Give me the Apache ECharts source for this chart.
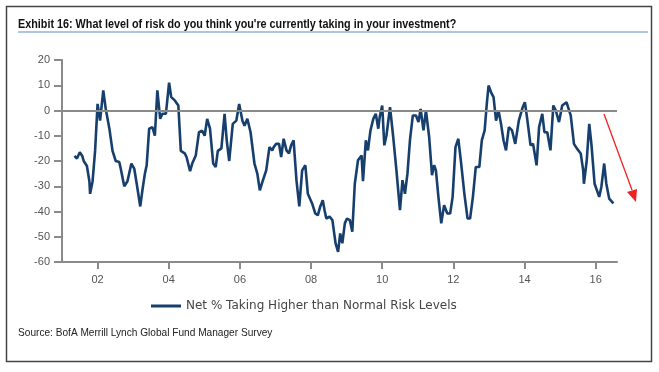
<!DOCTYPE html>
<html>
<head>
<meta charset="utf-8">
<script src="https://cdn.jsdelivr.net/npm/echarts@6/dist/echarts.min.js"></script>
<style>
html,body{margin:0;padding:0;background:#fff;}
#c{width:659px;height:372px;}
</style>
</head>
<body>
<div id="c"></div>
<script>
// Decimal-year positions of traced vertices
var years = [
2001.35,2001.42,2001.50,2001.57,2001.61,2001.65,2001.70,2001.77,2001.79,2001.86,2001.93,
2002.00,2002.07,2002.16,2002.23,2002.33,2002.42,2002.51,2002.61,2002.65,2002.75,2002.84,2002.95,
2003.03,2003.10,2003.20,2003.26,2003.33,2003.38,2003.45,2003.54,2003.61,2003.68,2003.76,2003.82,2003.92,
2004.01,2004.07,2004.17,2004.27,2004.34,2004.45,2004.50,2004.60,2004.66,2004.76,2004.85,2004.94,
2005.01,2005.08,2005.16,2005.25,2005.32,2005.38,2005.48,2005.57,2005.63,2005.70,2005.80,2005.90,2005.98,
2006.07,2006.13,2006.21,2006.30,2006.41,2006.49,2006.56,2006.64,2006.74,2006.83,2006.91,2006.95,
2007.02,2007.10,2007.16,2007.23,2007.31,2007.38,2007.44,2007.51,2007.59,2007.67,2007.75,2007.84,2007.91,
2008.03,2008.12,2008.19,2008.26,2008.33,2008.38,2008.43,2008.52,2008.60,2008.69,2008.76,2008.82,2008.88,2008.95,
2009.01,2009.09,2009.16,2009.23,2009.32,2009.42,2009.46,2009.54,2009.60,2009.67,2009.75,2009.82,2009.89,2009.93,
2010.00,2010.06,2010.12,2010.22,2010.31,2010.40,2010.50,2010.57,2010.64,2010.71,2010.78,2010.86,2010.95,
2011.02,2011.08,2011.16,2011.23,2011.32,2011.40,2011.46,2011.51,2011.58,2011.66,2011.74,2011.83,2011.91,2011.98,
2012.06,2012.14,2012.22,2012.31,2012.40,2012.47,2012.55,2012.63,2012.73,2012.80,2012.88,2012.94,2012.99,
2013.06,2013.13,2013.20,2013.27,2013.34,2013.41,2013.48,2013.56,2013.65,2013.74,2013.84,2013.95,
2014.01,2014.07,2014.17,2014.24,2014.34,2014.41,2014.50,2014.56,2014.64,2014.73,2014.81,2014.88,2014.97,
2015.06,2015.18,2015.30,2015.39,2015.47,2015.58,2015.65,2015.67,2015.75,2015.82,2015.88,2015.97,
2016.10,2016.16,2016.24,2016.30,2016.38,2016.50
];
// Net % taking higher than normal risk levels
var netRisk = [
-18,-19,-16.5,-18,-20,-19.5,-22,-28,-33,-28,-16,
2.6,-4,8,0.6,-7,-16,-20,-20.4,-23,-30,-28,-21,
-23,-29,-38,-31.6,-25,-21.7,-7.2,-6.6,-10,8,-3.3,-1.3,-1.3,
11,5.3,4,2,-16,-17,-18.4,-24,-21,-17.8,-8.6,-8,
-10,-3.3,-7.2,-21,-22.4,-16,-15,-1.3,-11.8,-20,-5.3,-4,2.6,
-4,-6,-3.3,-8.6,-21,-25,-31.6,-28,-23.7,-14.5,-15.8,-14.5,
-13.2,-13.2,-18.4,-11.2,-15.8,-17,-13.8,-11.8,-27.6,-38,-23.7,-21.7,-33,
-36.8,-40.8,-41.5,-38,-35.5,-39.5,-42.8,-42,-43.4,-52.6,-56,-48.7,-52.6,-44.7,
-42.8,-43.4,-48,-29,-19.7,-17.8,-28,-11.8,-15.8,-7.9,-3.3,-1.3,-7.2,-2.6,
2,-13.8,-9.9,1.3,-10.5,-23.7,-39.5,-27.6,-33,-25,-11.8,-2,-2,
-4.6,0.6,-7.9,0,-10.5,-25.6,-21.7,-23.7,-34.2,-44.7,-37.5,-40.8,-40.8,-34.2,
-14.5,-11.2,-21,-33,-42.8,-42.8,-34.2,-22.4,-22.4,-11.8,-7.9,2.6,9.9,
7.2,5.3,-4,0,-5.3,-11.8,-15.8,-6.6,-7.9,-13.2,-4,1.3,
3.3,-2.6,-13.8,-13.2,-21.7,-6.6,-1.3,-8.6,-8.6,-15.8,2,0,-4.6,
2,3.3,-2,-13.2,-15,-17,-23.7,-29,-19.7,-5.3,-13.2,-29,
-34.2,-30.3,-21,-29,-34.9,-36.8
];
var tickYears = [2002,2004,2006,2008,2010,2012,2014,2016];

var titleText = "Exhibit 16: What level of risk do you think you're currently taking in your investment?";
var seriesName = "Net % Taking Higher than Normal Risk Levels";
var sourceText = "Source: BofA Merrill Lynch Global Fund Manager Survey";

var pts = years.map(function(y,i){return [y, netRisk[i]];});

var chart = echarts.init(document.getElementById('c'), null, {renderer:'canvas'});
var option = {
  animation:false,
  backgroundColor:'#fff',
  grid:{left:62,right:42,top:60,bottom:110,containLabel:false},
  legend:{
    data:[{name:seriesName, icon:'rect'}],
    left:146, top:295,
    itemWidth:30, itemHeight:3, itemGap:8,
    textStyle:{fontFamily:'DejaVu Sans', fontSize:12, color:'#444'}
  },
  xAxis:{
    type:'value', min:2001.0, max:2016.6,
    axisLine:{show:true, onZero:false, lineStyle:{color:'#8a8a8a', width:2}},
    axisTick:{show:true, customValues:tickYears, length:7, lineStyle:{color:'#8a8a8a', width:2}},
    axisLabel:{customValues:tickYears, formatter:function(v){return String(Math.round(v)).slice(2);}, color:'#555', fontFamily:'Liberation Sans', fontSize:11, margin:12},
    splitLine:{show:false}
  },
  yAxis:{
    type:'value', min:-60, max:20, interval:10,
    axisLine:{show:true, lineStyle:{color:'#8a8a8a', width:2}},
    axisTick:{show:true, length:8, lineStyle:{color:'#8a8a8a', width:2}},
    axisLabel:{color:'#555', fontFamily:'Liberation Sans', fontSize:11, margin:12},
    splitLine:{show:false}
  },
  series:[{
    name:seriesName, type:'line', data:pts, showSymbol:false, symbol:'none',
    lineStyle:{color:'#173f6e', width:2.6}, itemStyle:{color:'#173f6e'},
    markLine:{silent:true, symbol:'none', label:{show:false},
      lineStyle:{color:'#8a8a8a', width:2, type:'solid'},
      data:[{yAxis:0}]}
  }],
  graphic:[
    {type:'rect', shape:{x:6.5,y:6.5,width:645,height:355}, style:{fill:null, stroke:'#444', lineWidth:1.5}, silent:true},
    {type:'text', x:18, y:17, scaleX:0.80, style:{text:titleText, font:'bold 13.5px "Liberation Sans", sans-serif', fill:'#111'}},
    {type:'line', shape:{x1:18,y1:32,x2:648,y2:32}, style:{stroke:'#8fb2d8', lineWidth:1.5}},
    {type:'text', x:18, y:327, scaleX:0.92, style:{text:sourceText, font:'11px "Liberation Sans", sans-serif', fill:'#222'}},
    {type:'line', shape:{x1:604,y1:114,x2:632,y2:190}, style:{stroke:'#ee2222', lineWidth:1.3}},
    {type:'polygon', shape:{points:[[636,202],[627,192],[637,189]]}, style:{fill:'#ee2222'}}
  ]
};
chart.setOption(option);
</script>
</body>
</html>
